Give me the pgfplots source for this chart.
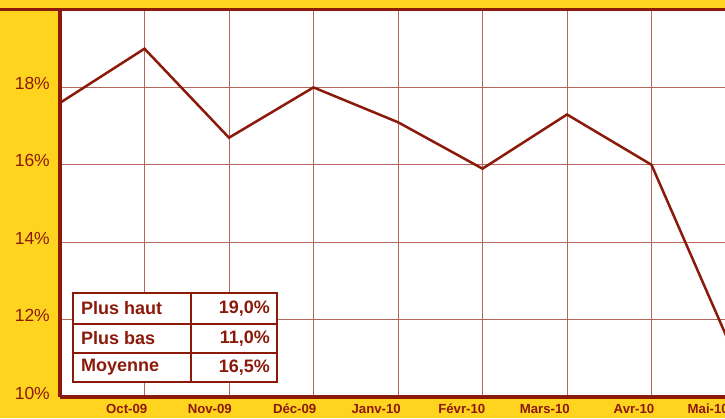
\documentclass[border=0pt]{standalone}
\usepackage{pgfplots}
\pgfplotsset{compat=1.18}
\usepackage{fontspec}
\setmainfont{Liberation Sans}
\definecolor{bg}{HTML}{FFD41E}
\definecolor{dred}{HTML}{8C1A0B}
\definecolor{gridred}{HTML}{B5675E}
\begin{document}
\begin{tikzpicture}[x=1pt,y=1pt]
\fill[bg] (0,0) rectangle (725,418);
\begin{scope}
\clip (0,0) rectangle (725,418);
\begin{axis}[
  at={(60pt,21pt)}, anchor=south west,
  scale only axis,
  x=84.5pt, y=38.7pt,
  xmin=0, xmax=8.6, ymin=10, ymax=20,
  axis background/.style={fill=white},
  axis lines*=left,
  axis line style={dred, line width=3.5pt},
  xtick={1,2,3,4,5,6,7,8},
  xticklabels={Oct-09,Nov-09,Déc-09,Janv-10,Févr-10,Mars-10,Avr-10,Mai-10\kern10pt},
  ytick={10,12,14,16,18},
  yticklabels={10\%,12\%,14\%,16\%,18\%},
  xmajorgrids, ymajorgrids,
  grid style={gridred, line width=0.9pt},
  major tick length=0pt,
  yticklabel style={inner sep=0pt, anchor=east, xshift=-10pt, yshift=4pt, text=dred, font=\fontsize{17.5}{20}\selectfont},
  xticklabel style={inner sep=0pt, anchor=north east, xshift=3pt, yshift=-7pt, text=dred, font=\bfseries\fontsize{13.2}{15}\selectfont},
]
\addplot[dred, line width=2.5pt, line join=miter] coordinates {
(0,17.6) (1,19.0) (2,16.7) (3,18.0) (4,17.1) (5,15.9) (6,17.3) (7,16.0) (8,11.0)
};
\end{axis}
\draw[dred, line width=3pt] (0,408) -- (725,408);
\draw[dred, line width=2pt, fill=white] (72.7,36.3) rectangle (276.7,125.3);
\draw[dred, line width=2pt] (190.7,36.3) -- (190.7,125.3) (72.7,94) -- (276.7,94) (72.7,65.3) -- (276.7,65.3);
\begin{scope}[every node/.style={text=dred, font=\bfseries\fontsize{18}{20}\selectfont, inner sep=0pt}]
\node[anchor=west] at (81,109.7) {Plus haut};
\node[anchor=west] at (81,79.7) {Plus bas};
\node[anchor=west] at (81,50.8) {Moyenne};
\node[anchor=east] at (270,109.7) {19,0\%};
\node[anchor=east] at (270,79.7) {11,0\%};
\node[anchor=east] at (270,50.8) {16,5\%};
\end{scope}
\end{scope}
\pgfresetboundingbox
\useasboundingbox (0,0) rectangle (725,418);
\end{tikzpicture}
\end{document}
